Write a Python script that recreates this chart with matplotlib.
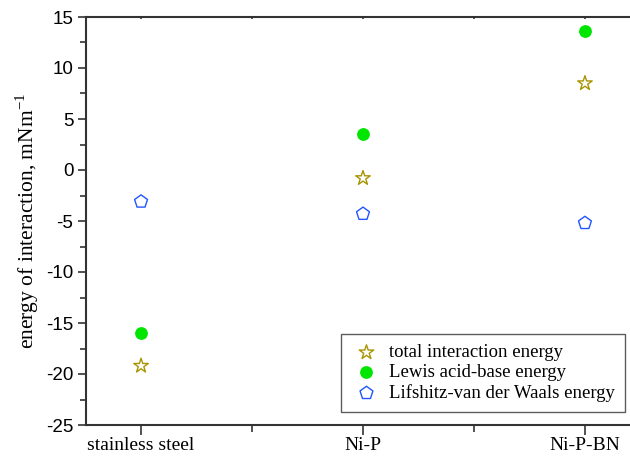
import numpy as np
import matplotlib.pyplot as plt

plt.rcParams['axes.unicode_minus'] = False
plt.rcParams['mathtext.fontset'] = 'custom'
plt.rcParams['mathtext.rm'] = 'Liberation Serif'

# samples and energies (mN/m)
samples = ['stainless steel', 'Ni-P', 'Ni-P-BN']
total_energy = [-19.2, -0.8, 8.5]
lewis_energy = [-16.0, 3.5, 13.6]
lw_energy = [-3.1, -4.3, -5.2]

x = np.arange(1, len(samples) + 1)

fig = plt.figure(figsize=(6.30, 4.58), dpi=100)
ax = fig.add_axes([86/630, 1 - 425/458, 1 - 86/630, (425 - 17)/458])

ax.scatter(x, total_energy, marker='*', s=120, facecolors='none', edgecolors='#a89400',
           linewidths=1.0, label='total interaction energy', zorder=3)
ax.scatter(x, lewis_energy, marker='o', s=85, color='#00e600', linewidths=0,
           label='Lewis acid-base energy', zorder=3)
ax.scatter(x, lw_energy, marker='p', s=95, facecolors='none', edgecolors='#2255ff',
           linewidths=1.0, label='Lifshitz-van der Waals energy', zorder=3)

ax.set_xlim(0.752, 3.203)
ax.set_ylim(-25, 15)
ax.set_xticks(x)
ax.set_xticklabels(samples, family='Liberation Serif', fontsize=14)
ax.set_xticks([1.5, 2.5], minor=True)
ax.set_yticks(np.arange(-25, 16, 5))
ax.set_yticks(np.arange(-22.5, 15, 5), minor=True)
for lab in ax.get_yticklabels():
    lab.set_family('Liberation Sans')
    lab.set_fontsize(13.5)

ax.tick_params(axis='both', which='major', direction='out', length=6, width=1.2, color='#333333')
ax.tick_params(axis='both', which='minor', direction='out', length=4, width=1.2, color='#333333')
ax.tick_params(axis='y', which='major', pad=3)
ax.tick_params(axis='x', which='major', pad=9)
ax.tick_params(axis='x', which='both', top=True, direction='in', length=1.5)

for side in ['left', 'bottom', 'top']:
    ax.spines[side].set_linewidth(1.5)
    ax.spines[side].set_color('#333333')
ax.spines['right'].set_visible(False)

# bottom ticks outward, top ticks inward
for t in ax.xaxis.get_major_ticks():
    t.tick1line.set_marker(3)
    t.tick1line.set_markersize(7)
for t in ax.xaxis.get_minor_ticks():
    t.tick1line.set_marker(3)
    t.tick1line.set_markersize(5)

ax.set_ylabel('energy of interaction, mNm$^{\\mathrm{-1}}$', family='Liberation Serif',
              fontsize=15.5, labelpad=4)

leg = ax.legend(loc='lower right', bbox_to_anchor=(0.998, 0.022),
                prop={'family': 'Liberation Serif', 'size': 13.5},
                frameon=True, fancybox=False, edgecolor='#333333', handletextpad=0.4,
                borderpad=0.55, labelspacing=0.15, handlelength=1.6, borderaxespad=0.2)
leg.get_frame().set_linewidth(1.0)

plt.savefig('out.png', dpi=100)
